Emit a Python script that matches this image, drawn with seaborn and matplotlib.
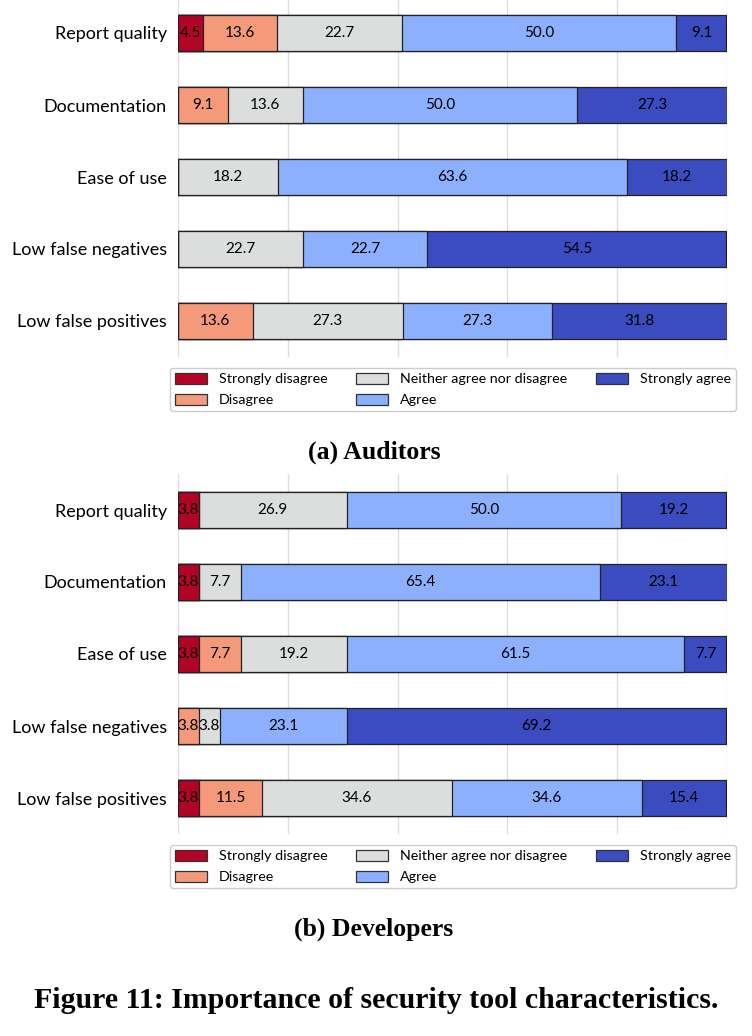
import numpy as np
import pandas as pd
import matplotlib
matplotlib.use("Agg")
import matplotlib.pyplot as plt
import seaborn as sns
from matplotlib.patches import Patch

categories = ["Report quality", "Documentation", "Ease of use",
              "Low false negatives", "Low false positives"]
levels = ["Strongly disagree", "Disagree", "Neither agree nor disagree",
          "Agree", "Strongly agree"]

# Auditors (percent per level, per category)
aud_strongly_disagree = [4.5, 0.0, 0.0, 0.0, 0.0]
aud_disagree = [13.6, 9.1, 0.0, 0.0, 13.6]
aud_neither = [22.7, 13.6, 18.2, 22.7, 27.3]
aud_agree = [50.0, 50.0, 63.6, 22.7, 27.3]
aud_strongly_agree = [9.1, 27.3, 18.2, 54.5, 31.8]

# Developers
dev_strongly_disagree = [3.8, 3.8, 3.8, 0.0, 3.8]
dev_disagree = [0.0, 0.0, 7.7, 3.8, 11.5]
dev_neither = [26.9, 7.7, 19.2, 3.8, 34.6]
dev_agree = [50.0, 65.4, 61.5, 23.1, 34.6]
dev_strongly_agree = [19.2, 23.1, 7.7, 69.2, 15.4]

captions = ["(a) Auditors", "(b) Developers"]
fig_title = "Figure 11: Importance of security tool characteristics."

sns.set_theme(style="whitegrid")
plt.rcParams["font.family"] = ["Lato", "DejaVu Sans"]
plt.rcParams["text.color"] = "black"
plt.rcParams["ytick.color"] = "black"
plt.rcParams["ytick.labelcolor"] = "black"

cmap = matplotlib.colormaps["coolwarm_r"]
palette = [cmap(t) for t in np.linspace(0, 1, 5)]

W, H = 752, 1036
fig = plt.figure(figsize=(W / 100, H / 100), dpi=100)


def fx(px):
    return px / W


def fy(py):
    return 1 - py / H


def draw_panel(top_px, bottom_px, data, legend_top_px, caption, caption_y):
    ax = fig.add_axes([fx(178), fy(bottom_px), fx(727) - fx(178), fy(top_px) - fy(bottom_px)])
    df = pd.DataFrame(np.array(data).T, columns=levels)
    df["category"] = categories
    cum = df[levels].cumsum(axis=1)
    for i in range(len(levels) - 1, -1, -1):
        sub = pd.DataFrame({"value": cum[levels[i]], "category": categories})
        sns.barplot(data=sub, x="value", y="category", orient="h", color=palette[i],
                    saturation=1, width=0.5, edgecolor="#222222", linewidth=0.9, ax=ax)
    # labels at segment centres
    for r, cat in enumerate(categories):
        start = 0.0
        for i, lv in enumerate(levels):
            v = df.loc[r, lv]
            if v > 0:
                ax.text(start + v / 2, r, f"{v:.1f}", ha="center", va="center",
                        fontsize=11, color="black")
            start += v
    ax.set_xlim(0, 100)
    ax.set_ylim(4.5, -0.5)
    ax.set_xticks([0, 20, 40, 60, 80, 100])
    ax.set_xticklabels([])
    ax.set_xlabel("")
    ax.set_ylabel("")
    ax.tick_params(axis="y", labelsize=13, length=0, pad=8, labelcolor="black")
    ax.tick_params(axis="x", length=0)
    ax.grid(axis="x", color="#dddddd", linewidth=1.0)
    ax.grid(axis="y", visible=False)
    for s in ax.spines.values():
        s.set_visible(False)
    handles = [Patch(facecolor=palette[i], edgecolor="#333333", linewidth=0.9, label=levels[i])
               for i in range(len(levels))]
    fig.legend(handles=handles, ncol=3, loc="upper center",
               bbox_to_anchor=(fx(453), fy(legend_top_px)), fontsize=10.3,
               frameon=True, fancybox=True, edgecolor="#cccccc", framealpha=1,
               handlelength=2.24, handleheight=0.77, handletextpad=0.84, columnspacing=2.0,
               borderpad=0.35, labelspacing=0.6, borderaxespad=0, labelcolor="black")
    fig.text(fx(374), fy(caption_y), caption, ha="center", va="center", color="black",
             fontsize=18.5, fontweight="bold", family=["Liberation Serif", "DejaVu Serif"])


draw_panel(-3, 357,
           [aud_strongly_disagree, aud_disagree, aud_neither, aud_agree, aud_strongly_agree],
           368, captions[0], 452)
draw_panel(474, 834,
           [dev_strongly_disagree, dev_disagree, dev_neither, dev_agree, dev_strongly_agree],
           845, captions[1], 929)

fig.text(fx(376), fy(1000), fig_title, ha="center", va="center", color="black",
         fontsize=21.5, fontweight="bold", family=["Liberation Serif", "DejaVu Serif"])

fig.savefig("out.png", dpi=100)
